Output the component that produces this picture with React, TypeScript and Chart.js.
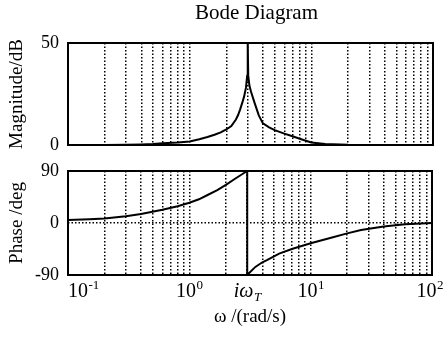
import React, { useEffect, useRef } from 'react';
import { Chart, registerables } from 'chart.js';

Chart.register(...registerables);

// ---------- data ----------
const magOmega = [0.1, 0.2, 0.3, 0.4, 0.5, 0.6, 0.8, 1.0, 1.2, 1.4, 1.6, 1.8, 2.0, 2.2, 2.4, 2.5, 2.6, 2.7, 2.8, 2.9, 2.97, 3.0, 3.03, 3.1, 3.2, 3.4, 3.7, 4.0, 4.5, 5.0, 6.0, 7.0, 8.5, 10, 13, 20, 30, 100];
const magDb = [0, 0, 0.1, 0.3, 0.5, 0.8, 1.2, 1.7, 2.8, 3.9, 5.0, 6.2, 7.6, 9.3, 12.5, 14.7, 17.5, 20.5, 23.7, 28, 34, 50, 34, 29, 26, 21, 14.5, 10.6, 8.6, 7.3, 5.6, 4.3, 2.6, 1.2, 0.5, 0.1, 0, 0];

const phaseOmega = [0.1, 0.15, 0.2, 0.3, 0.4, 0.6, 0.8, 1.0, 1.2, 1.4, 1.7, 2.0, 2.4, 2.7, 3.0, 3.0, 3.1, 3.5, 4.0, 4.4, 5.5, 7, 10, 15, 20, 26, 40, 60, 100];
const phaseDeg = [5, 6.5, 8, 11.5, 15.5, 23, 29, 35, 41, 48, 57, 66, 77, 84, 90, -90, -87, -76, -68, -64, -53, -45, -35, -25, -18, -12, -6, -2, 0];

const gridOmega = [0.1, 0.2, 0.3, 0.4, 0.5, 0.6, 0.7, 0.8, 0.9, 1, 2, 3, 4, 5, 6, 7, 8, 9, 10, 20, 30, 40, 50, 60, 70, 80, 90, 100];
const xTickValues = [0.1, 1, 3, 10, 100];
const xTickBase = ['10', '10', 'iω', '10', '10'];
const xTickScript = ['-1', '0', 'T', '1', '2'];
const magTicks = [0, 50];
const phaseTicks = [-90, 0, 90];

const titleText = 'Bode Diagram';
const magLabel = 'Magnitude/dB';
const phaseLabel = 'Phase /deg';
const xLabel = 'ω /(rad/s)';

const SERIF = "'Liberation Serif', 'Times New Roman', serif";

const boxPlugin = {
  id: 'boxPlugin',
  afterDraw(chart: any) {
    const { ctx, chartArea: a } = chart;
    ctx.save();
    ctx.strokeStyle = '#000';
    ctx.lineWidth = 2;
    ctx.setLineDash([]);
    ctx.strokeRect(a.left, a.top, a.right - a.left, a.bottom - a.top);
    ctx.restore();
  },
};

const titlePlugin = {
  id: 'titlePlugin',
  afterDraw(chart: any) {
    const { ctx, chartArea: a } = chart;
    ctx.save();
    ctx.fillStyle = '#000';
    ctx.font = `21px ${SERIF}`;
    ctx.textAlign = 'center';
    ctx.textBaseline = 'middle';
    ctx.fillText(titleText, (a.left + a.right) / 2 + 6, 13);
    ctx.restore();
  },
};

const xLabelsPlugin = {
  id: 'xLabelsPlugin',
  afterDraw(chart: any) {
    const { ctx, chartArea: a, width } = chart;
    const scale = chart.scales.x;
    ctx.save();
    ctx.fillStyle = '#000';
    ctx.textBaseline = 'alphabetic';
    ctx.textAlign = 'left';
    const baseY = a.bottom + 22;
    xTickValues.forEach((v, i) => {
      const x = scale.getPixelForValue(v);
      const isSub = xTickScript[i] === 'T';
      const baseFont = isSub ? `italic 20px ${SERIF}` : `20px ${SERIF}`;
      const scriptFont = isSub ? `italic 13px ${SERIF}` : `13px ${SERIF}`;
      ctx.font = baseFont;
      const wb = ctx.measureText(xTickBase[i]).width;
      ctx.font = scriptFont;
      const ws = ctx.measureText(xTickScript[i]).width;
      let start = x - (wb + ws) / 2;
      if (start < a.left) start = a.left;
      if (start + wb + ws > width) start = width - wb - ws;
      ctx.font = baseFont;
      ctx.fillText(xTickBase[i], start, baseY);
      ctx.font = scriptFont;
      ctx.fillText(xTickScript[i], start + wb + 0.5, isSub ? baseY + 4 : baseY - 8);
    });
    ctx.restore();
  },
};

const gridStyle = {
  color: '#000',
  lineWidth: 1.5,
  drawTicks: false,
};

function zeroPad(scale: any) {
  scale.paddingTop = 0;
  scale.paddingBottom = 0;
  scale.paddingLeft = 0;
  scale.paddingRight = 0;
}

function makeXScale(showTitle: boolean, height: number) {
  return {
    type: 'logarithmic',
    min: 0.1,
    max: 100,
    position: 'bottom',
    afterBuildTicks: (scale: any) => {
      scale.ticks = gridOmega.map((v) => ({ value: v }));
    },
    afterFit: (scale: any) => {
      scale.height = height;
      zeroPad(scale);
    },
    ticks: { display: false },
    grid: gridStyle,
    border: { display: false, dash: [1.5, 2] },
    title: {
      display: showTitle,
      text: xLabel,
      color: '#000',
      font: { family: SERIF, size: 19 },
      padding: { top: 0, bottom: 10 },
    },
  } as any;
}

function makeYScale(label: string, min: number, max: number, ticks: number[], showGrid: boolean) {
  return {
    min,
    max,
    afterBuildTicks: (scale: any) => {
      scale.ticks = ticks.map((v) => ({ value: v }));
    },
    afterFit: (scale: any) => {
      scale.width = 68;
      zeroPad(scale);
    },
    ticks: {
      color: '#000',
      font: { family: SERIF, size: 18 },
      padding: 9,
      callback: (v: any) => String(v),
    },
    grid: { ...gridStyle, display: showGrid },
    border: { display: false, dash: [1.5, 2] },
    title: {
      display: true,
      text: label,
      color: '#000',
      font: { family: SERIF, size: 19 },
      padding: { top: 6, bottom: 0 },
    },
  } as any;
}

export default function App() {
  const topRef = useRef<HTMLCanvasElement | null>(null);
  const botRef = useRef<HTMLCanvasElement | null>(null);

  useEffect(() => {
    document.body.style.margin = '0';
    const topCtx = topRef.current!;
    const botCtx = botRef.current!;

    const top = new Chart(topCtx, {
      type: 'line',
      data: {
        datasets: [
          {
            data: magOmega.map((w, i) => ({ x: w, y: magDb[i] })),
            borderColor: '#000',
            borderWidth: 2,
            pointRadius: 0,
            tension: 0,
            fill: false,
          },
        ],
      },
      options: {
        responsive: false,
        animation: false,
        devicePixelRatio: 1,
        layout: { padding: { top: 43, right: 10, bottom: 15, left: 0 } },
        plugins: { legend: { display: false }, tooltip: { enabled: false }, title: { display: false } },
        scales: { x: makeXScale(false, 0), y: makeYScale(magLabel, 0, 50, magTicks, false) },
      } as any,
      plugins: [boxPlugin, titlePlugin],
    });

    const bot = new Chart(botCtx, {
      type: 'line',
      data: {
        datasets: [
          {
            data: phaseOmega.map((w, i) => ({ x: w, y: phaseDeg[i] })),
            borderColor: '#000',
            borderWidth: 2,
            pointRadius: 0,
            tension: 0,
            fill: false,
          },
        ],
      },
      options: {
        responsive: false,
        animation: false,
        devicePixelRatio: 1,
        layout: { padding: { top: 11, right: 11, bottom: 0, left: 0 } },
        plugins: { legend: { display: false }, tooltip: { enabled: false }, title: { display: false } },
        scales: { x: makeXScale(true, 63), y: makeYScale(phaseLabel, -90, 90, phaseTicks, true) },
      } as any,
      plugins: [boxPlugin, xLabelsPlugin],
    });

    return () => {
      top.destroy();
      bot.destroy();
    };
  }, []);

  return (
    <div style={{ position: 'relative', width: 443, height: 338, background: '#fff' }}>
      <canvas ref={topRef} width={443} height={160} style={{ position: 'absolute', left: 0, top: 0, display: 'block' }} />
      <canvas ref={botRef} width={443} height={178} style={{ position: 'absolute', left: 0, top: 160, display: 'block' }} />
    </div>
  );
}
